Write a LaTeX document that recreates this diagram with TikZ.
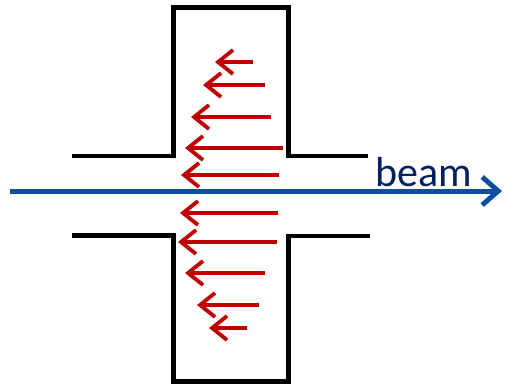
\documentclass[tikz,border=0pt]{standalone}
\usepackage{fontspec}
\setmainfont{Carlito}
\usepackage{xcolor}
\usepackage{tikz}
\usetikzlibrary{arrows.meta}

\definecolor{wallred}{HTML}{C00000}
\definecolor{beamblue}{RGB}{12,78,160}
\definecolor{labelblue}{RGB}{0,32,96}

\begin{document}
\begin{tikzpicture}[x=1pt, y=-1pt,
  pipe/.style={line width=4.8pt, miter limit=4},
  field/.style={wallred, line width=3.8pt, -{Straight Barb[length=15pt, width=24pt]}},
  beamline/.style={beamblue, line width=5pt, -{Straight Barb[length=16pt, width=28pt]}}]
\useasboundingbox (0,0) rectangle (506,386);
% cavity walls
\draw[pipe] (72,156) -- (173.5,156) -- (173.5,7.5) -- (288.5,7.5) -- (288.5,156) -- (368,156);
\draw[pipe] (72,235.5) -- (173.5,235.5) -- (173.5,381.5) -- (288.5,381.5) -- (288.5,236) -- (370,236);
% field arrows
\foreach \y/\tip/\tail in {62/215/253, 85/203/265, 117/191/271, 148/185/283, 175/181/279,
                          213/180/278, 242/178/277, 273/185/265, 305/197/259, 328/209/247} {
  \coordinate (tail) at (\tail,\y);
  \coordinate (tip) at (\tip,\y);
  \draw[field] (tail) -- (tip);
}
% beam
\coordinate (beamstart) at (10,191);
\coordinate (beamend) at (502,191);
\draw[beamline] (beamstart) -- (beamend);
\node[labelblue, anchor=base west, inner sep=0pt, font=\fontsize{42}{44}\selectfont] (beamlabel) at (375,186) {beam};
\end{tikzpicture}
\end{document}
